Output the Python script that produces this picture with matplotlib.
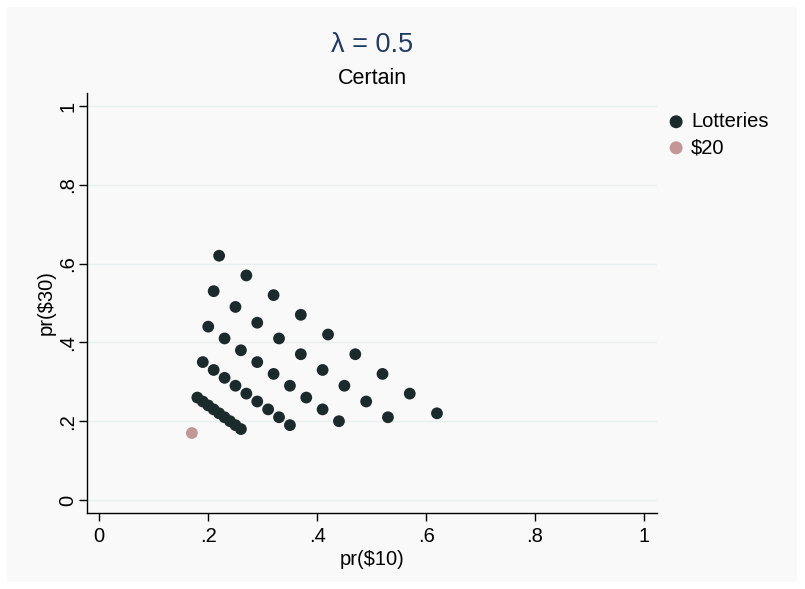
import matplotlib.pyplot as plt

# Lottery probabilities
pr10 = [0.22, 0.27, 0.32, 0.37, 0.42, 0.47, 0.52, 0.57, 0.62,
        0.21, 0.25, 0.29, 0.33, 0.37, 0.41, 0.45, 0.49, 0.53,
        0.20, 0.23, 0.26, 0.29, 0.32, 0.35, 0.38, 0.41, 0.44,
        0.19, 0.21, 0.23, 0.25, 0.27, 0.29, 0.31, 0.33, 0.35,
        0.18, 0.19, 0.20, 0.21, 0.22, 0.23, 0.24, 0.25, 0.26]
pr30 = [0.62, 0.57, 0.52, 0.47, 0.42, 0.37, 0.32, 0.27, 0.22,
        0.53, 0.49, 0.45, 0.41, 0.37, 0.33, 0.29, 0.25, 0.21,
        0.44, 0.41, 0.38, 0.35, 0.32, 0.29, 0.26, 0.23, 0.20,
        0.35, 0.33, 0.31, 0.29, 0.27, 0.25, 0.23, 0.21, 0.19,
        0.26, 0.25, 0.24, 0.23, 0.22, 0.21, 0.20, 0.19, 0.18]
certain_x = [0.17]
certain_y = [0.17]

ticks = [0, 0.2, 0.4, 0.6, 0.8, 1]
tick_labels = ['0', '.2', '.4', '.6', '.8', '1']

plt.rcParams['font.family'] = ['Liberation Sans', 'DejaVu Sans']
BG = '#f9f9f9'

fig = plt.figure(figsize=(8.05, 5.89), dpi=100, facecolor='white')
# light grey graph region inside a thin white margin
fig.patches.append(plt.Rectangle((7 / 805, 7 / 589), 790 / 805, 575 / 589,
                                 transform=fig.transFigure, facecolor=BG,
                                 edgecolor='none', zorder=-1))
ax = fig.add_axes([87 / 805, 1 - 513 / 589, 570 / 805, 420 / 589])
ax.set_facecolor(BG)

ax.scatter(pr10, pr30, s=72, color='#1b2a2a', edgecolors='none', label='Lotteries', zorder=3)
ax.scatter(certain_x, certain_y, s=72, color='#c49696', edgecolors='none', label='$20', zorder=3)

ax.set_xlim(-0.0226, 1.024)
ax.set_ylim(-0.033, 1.033)
ax.set_xticks(ticks)
ax.set_xticklabels(tick_labels, fontsize=14.5)
ax.set_yticks(ticks)
ax.set_yticklabels(tick_labels, fontsize=14.5, rotation=90, va='center')
ax.tick_params(length=6, width=1, color='black')
ax.tick_params(axis='y', pad=1)
ax.tick_params(axis='x', pad=4)
ax.grid(axis='y', color='#e7eff1', linewidth=1)
ax.set_axisbelow(True)
for side in ['top', 'right']:
    ax.spines[side].set_visible(False)
for side in ['left', 'bottom']:
    ax.spines[side].set_linewidth(1)

ax.set_xlabel('pr($10)', fontsize=14.5, labelpad=3)
ax.set_ylabel('pr($30)', fontsize=14.5, labelpad=2)

fig.text(372 / 805, 1 - 45 / 589, 'λ = 0.5', fontsize=19.5, color='#223a66', ha='center', va='center')
fig.text(372 / 805, 1 - 78 / 589, 'Certain', fontsize=15.5, color='black', ha='center', va='center')

leg = ax.legend(loc='upper left', bbox_to_anchor=(657 / 805, 1 - 104 / 589),
                bbox_transform=fig.transFigure, frameon=False, fontsize=14.5,
                handletextpad=0.2, labelspacing=0.35, borderaxespad=0, handlelength=1.1,
                markerscale=1.1)

fig.savefig('out.png', dpi=100, facecolor='white')
